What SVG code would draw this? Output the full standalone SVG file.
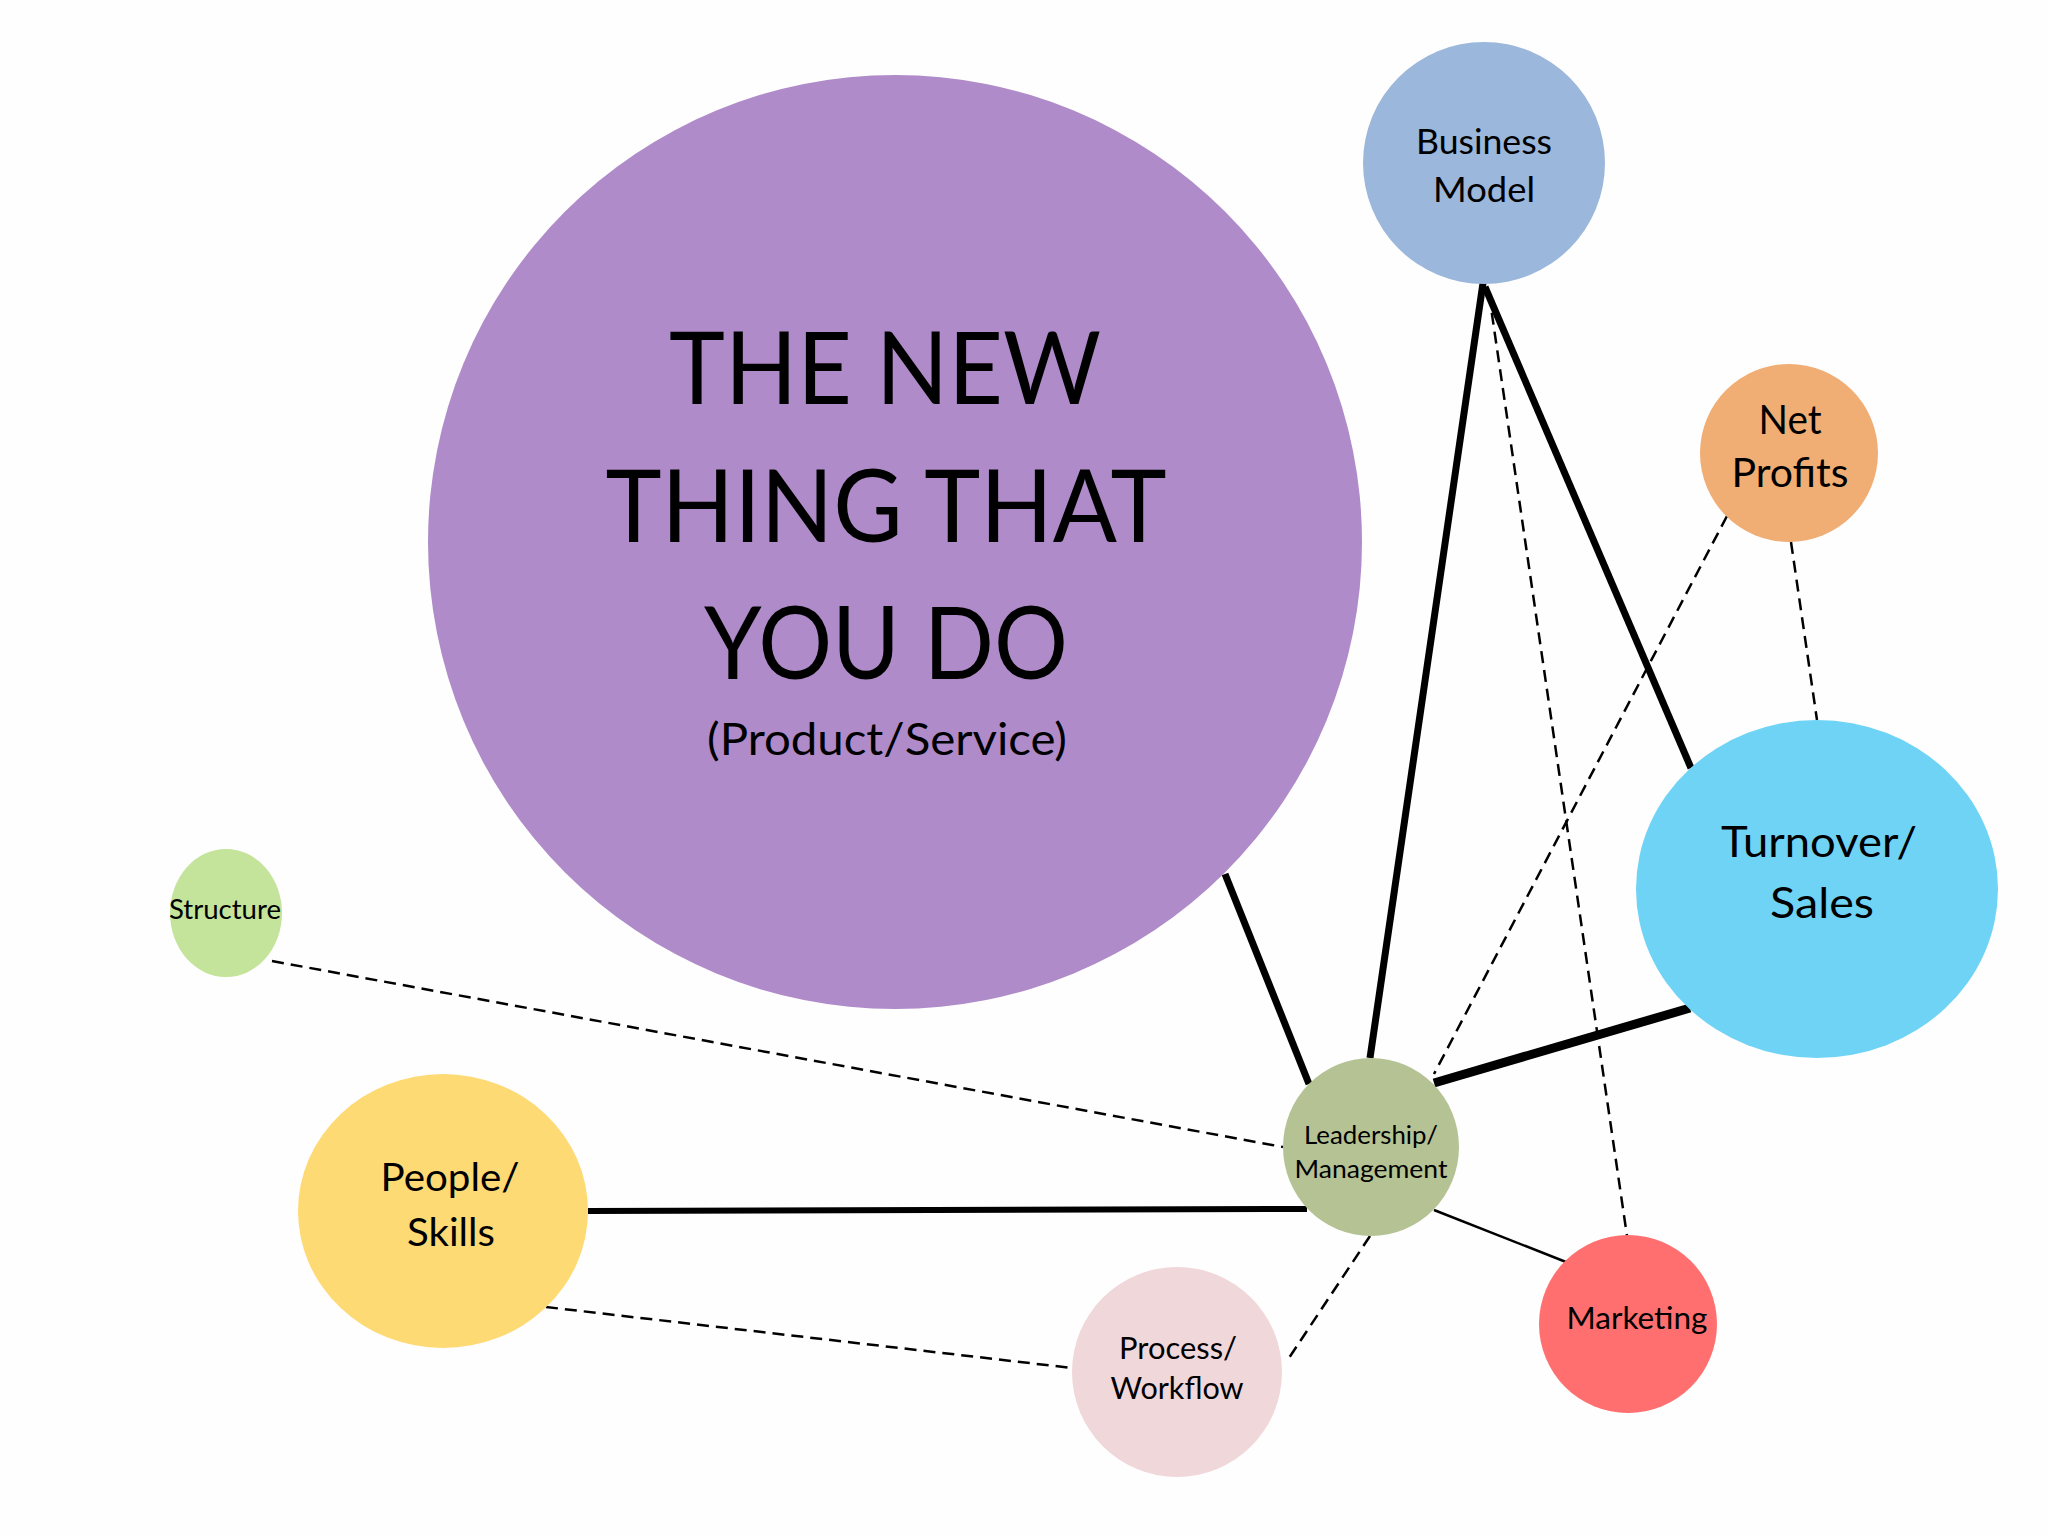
<svg xmlns="http://www.w3.org/2000/svg" width="2048" height="1536" viewBox="0 0 2048 1536">
<style>
text{font-family:Lato,"Open Sans","Liberation Sans",sans-serif;fill:#000;text-anchor:middle}
.thick{stroke:#000;stroke-width:7;fill:none}
.thin{stroke:#000;stroke-width:2.5;fill:none}
.dash{stroke:#000;stroke-width:2.5;stroke-dasharray:12 7;fill:none}
</style>
<rect width="2048" height="1536" fill="#fefefe"/>
<g id="connectors">
<line class="thick" x1="1225" y1="874" x2="1309" y2="1084"/>
<line class="thick" x1="1483" y1="283" x2="1370" y2="1058"/>
<line class="thick" x1="1485" y1="287" x2="1691" y2="768"/>
<line class="thick" style="stroke-width:9" x1="1434" y1="1083" x2="1690" y2="1008"/>
<line class="thick" style="stroke-width:6" x1="588" y1="1211" x2="1307" y2="1209"/>
<line class="thin" x1="1434" y1="1210" x2="1566" y2="1262"/>
<line class="dash" x1="1489" y1="294" x2="1627" y2="1236"/>
<line class="dash" x1="1727" y1="516" x2="1434" y2="1074"/>
<line class="dash" x1="1791" y1="542" x2="1817" y2="720"/>
<line class="dash" x1="272" y1="961" x2="1283" y2="1147"/>
<line class="dash" x1="546" y1="1307" x2="1072" y2="1368"/>
<line class="dash" x1="1370" y1="1236" x2="1287" y2="1361"/>
</g>
<g id="main">
<circle cx="895" cy="542" r="467" fill="#AF8BC9"/>
<text x="885" y="404" font-size="101" textLength="432" lengthAdjust="spacingAndGlyphs">THE NEW</text>
<text x="886" y="542" font-size="101" textLength="561" lengthAdjust="spacingAndGlyphs">THING THAT</text>
<text x="886" y="679" font-size="101" textLength="364" lengthAdjust="spacingAndGlyphs">YOU DO</text>
<text x="887" y="755" font-size="45" textLength="360" lengthAdjust="spacingAndGlyphs">(Product/Service)</text>
</g>
<g id="business-model">
<ellipse cx="1484" cy="163" rx="121" ry="121" fill="#9BB7DB"/>
<text x="1484" y="154" font-size="34" textLength="136" lengthAdjust="spacingAndGlyphs">Business</text>
<text x="1484" y="202" font-size="34" textLength="102" lengthAdjust="spacingAndGlyphs">Model</text>
</g>
<g id="net-profits">
<ellipse cx="1789" cy="453" rx="89" ry="89" fill="#F0AD74"/>
<text x="1790" y="434" font-size="40" textLength="63" lengthAdjust="spacingAndGlyphs">Net</text>
<text x="1790" y="487" font-size="40" textLength="117" lengthAdjust="spacingAndGlyphs">Profits</text>
</g>
<g id="turnover-sales">
<ellipse cx="1817" cy="889" rx="181" ry="169" fill="#6FD3F5"/>
<text x="1819" y="857" font-size="43" textLength="196" lengthAdjust="spacingAndGlyphs">Turnover/</text>
<text x="1822" y="918" font-size="43" textLength="104" lengthAdjust="spacingAndGlyphs">Sales</text>
</g>
<g id="structure">
<ellipse cx="226" cy="913" rx="56" ry="64" fill="#C4E39B"/>
<text x="225" y="919" font-size="27" textLength="112" lengthAdjust="spacingAndGlyphs">Structure</text>
</g>
<g id="people-skills">
<ellipse cx="443" cy="1211" rx="145" ry="137" fill="#FDDA74"/>
<text x="450" y="1191" font-size="39" textLength="139" lengthAdjust="spacingAndGlyphs">People/</text>
<text x="451" y="1246" font-size="39" textLength="88" lengthAdjust="spacingAndGlyphs">Skills</text>
</g>
<g id="leadership-management">
<ellipse cx="1371" cy="1147" rx="88" ry="89" fill="#B5C294"/>
<text x="1371" y="1144" font-size="25" textLength="134" lengthAdjust="spacingAndGlyphs">Leadership/</text>
<text x="1371" y="1178" font-size="25" textLength="153" lengthAdjust="spacingAndGlyphs">Management</text>
</g>
<g id="process-workflow">
<ellipse cx="1177" cy="1372" rx="105" ry="105" fill="#F0D7DA"/>
<text x="1178" y="1359" font-size="30" textLength="118" lengthAdjust="spacingAndGlyphs">Process/</text>
<text x="1177" y="1399" font-size="30" textLength="133" lengthAdjust="spacingAndGlyphs">Workflow</text>
</g>
<g id="marketing">
<ellipse cx="1628" cy="1324" rx="89" ry="89" fill="#FF6F6F"/>
<text x="1637" y="1329" font-size="31" textLength="141" lengthAdjust="spacingAndGlyphs">Marketing</text>
</g>
</svg>
